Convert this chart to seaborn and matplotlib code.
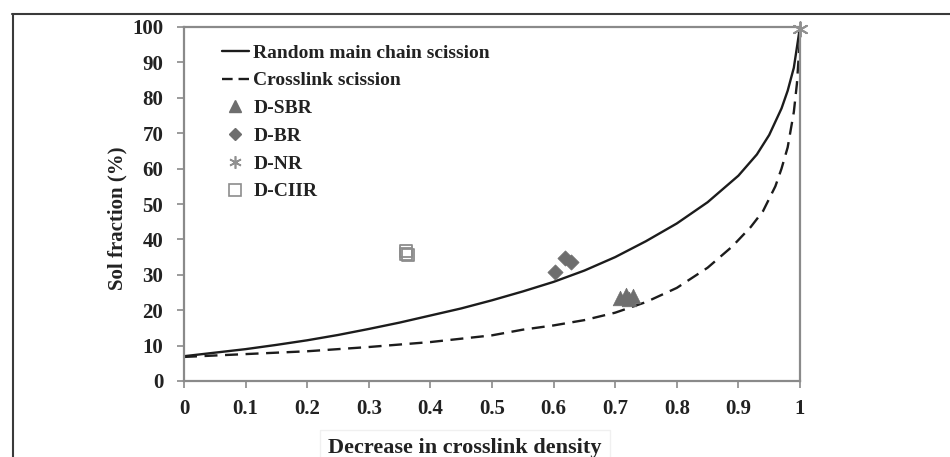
import matplotlib
matplotlib.use("Agg")
import matplotlib.pyplot as plt
from matplotlib.lines import Line2D
import seaborn as sns
import pandas as pd

# ---- data ----
random_x = [0.0, 0.05, 0.1, 0.15, 0.2, 0.25, 0.3, 0.35, 0.4, 0.45, 0.5, 0.55, 0.6,
            0.65, 0.7, 0.75, 0.8, 0.85, 0.9, 0.93, 0.95, 0.97, 0.98, 0.99, 1.0]
random_y = [7.0, 8.0, 9.0, 10.2, 11.5, 13.0, 14.7, 16.5, 18.5, 20.5, 22.8, 25.3, 28.0,
            31.2, 35.0, 39.5, 44.5, 50.5, 58.0, 64.0, 69.5, 77.0, 82.0, 88.5, 100.0]

xlink_x = [0.0, 0.1, 0.2, 0.3, 0.4, 0.5, 0.55, 0.6, 0.65, 0.7, 0.75, 0.8, 0.85,
           0.89, 0.92, 0.94, 0.96, 0.97, 0.98, 0.99, 0.995, 1.0]
xlink_y = [6.8, 7.6, 8.4, 9.6, 11.0, 12.9, 14.5, 15.7, 17.2, 19.3, 22.3, 26.3, 32.0,
           38.0, 43.5, 48.0, 55.0, 60.0, 66.0, 76.0, 84.0, 97.0]

sbr_x = [0.708, 0.718, 0.729, 0.722]
sbr_y = [23.4, 24.3, 24.0, 23.2]
br_x = [0.602, 0.619, 0.628]
br_y = [30.9, 34.7, 33.7]
nr_x = [1.0]
nr_y = [99.5]
ciir_x = [0.360, 0.363, 0.361]
ciir_y = [36.6, 35.5, 36.0]

x_ticks = [0, 0.1, 0.2, 0.3, 0.4, 0.5, 0.6, 0.7, 0.8, 0.9, 1]
x_tick_labels = ["0", "0.1", "0.2", "0.3", "0.4", "0.5", "0.6", "0.7", "0.8", "0.9", "1"]
y_ticks = [0, 10, 20, 30, 40, 50, 60, 70, 80, 90, 100]

x_label = "Decrease in crosslink density"
y_label = "Sol fraction (%)"
series_labels = ["Random main chain scission", "Crosslink scission",
                 "D-SBR", "D-BR", "D-NR", "D-CIIR"]

# ---- style ----
sns.set_style("ticks")
plt.rcParams["font.family"] = ["Liberation Serif", "DejaVu Serif"]
plt.rcParams["font.weight"] = "bold"

FS = 15
fig = plt.figure(figsize=(9.5, 4.57), dpi=100)
ax = fig.add_axes([184 / 950, 1 - 381 / 457, (800 - 184) / 950, (381 - 27) / 457])

line_col = "#1c1c1c"
mark_col = "#6e6e6e"
spine_col = "#8a8a8a"
text_col = "#222222"

df_r = pd.DataFrame({"x": random_x, "y": random_y})
df_c = pd.DataFrame({"x": xlink_x, "y": xlink_y})
sns.lineplot(data=df_r, x="x", y="y", ax=ax, color=line_col, lw=1.7,
             sort=False, estimator=None)
sns.lineplot(data=df_c, x="x", y="y", ax=ax, color=line_col, lw=1.7,
             sort=False, estimator=None, dashes=False)
ax.lines[-1].set_dashes((5.5, 3.2))

sns.scatterplot(x=sbr_x, y=sbr_y, ax=ax, marker="^", s=110, color=mark_col,
                edgecolor=mark_col, linewidth=0.5, zorder=4)
sns.scatterplot(x=br_x, y=br_y, ax=ax, marker="D", s=60, color=mark_col,
                edgecolor=mark_col, linewidth=0.5, zorder=4)
sns.scatterplot(x=nr_x, y=nr_y, ax=ax, marker=(6, 2, 0), s=110, color="#909090",
                edgecolor="#909090", linewidth=1.4, zorder=5, clip_on=False)
sns.scatterplot(x=ciir_x, y=ciir_y, ax=ax, marker="s", s=75, facecolor="none",
                edgecolor="#8c8c8c", linewidth=1.3, zorder=4)

ax.set_xlim(0, 1)
ax.set_ylim(0, 100)
ax.set_xticks(x_ticks)
ax.set_xticklabels(x_tick_labels)
ax.set_yticks(y_ticks)
ax.tick_params(axis="both", which="major", direction="out", length=5, width=1.2,
               color=spine_col, labelsize=FS, labelcolor=text_col)
ax.tick_params(axis="y", pad=10)
ax.tick_params(axis="x", pad=8)
for lab in ax.get_xticklabels() + ax.get_yticklabels():
    lab.set_fontweight("bold")
for sp in ax.spines.values():
    sp.set_visible(True)
    sp.set_color(spine_col)
    sp.set_linewidth(1.6)

ax.set_xlabel(x_label, fontsize=16, fontweight="bold", color=text_col,
              bbox=dict(boxstyle="square,pad=0.35", fc="none", ec="#f0f0f0", lw=1.0))
ax.xaxis.set_label_coords((465 - 184) / 616, -0.16)
ax.set_ylabel(y_label, fontsize=FS, fontweight="bold", color=text_col)
ax.yaxis.set_label_coords(-0.092, 0.46)

handles = [
    Line2D([], [], color=line_col, lw=1.7),
    Line2D([], [], color=line_col, lw=1.7, dashes=(4.5, 2.5)),
    Line2D([], [], ls="none", marker="^", ms=9, color=mark_col),
    Line2D([], [], ls="none", marker="D", ms=6.5, color=mark_col),
    Line2D([], [], ls="none", marker=(6, 2, 0), ms=9, mew=1.2, color="#909090"),
    Line2D([], [], ls="none", marker="s", ms=8, mfc="none", mec="#8c8c8c", mew=1.2),
]
leg = ax.legend(handles, series_labels, loc="upper left", bbox_to_anchor=(0.04, 0.99),
                frameon=False, handlelength=1.35, handletextpad=0.25, labelspacing=0.52,
                borderpad=0.2, prop={"family": "Liberation Serif", "weight": "bold", "size": 14})
for t in leg.get_texts():
    t.set_color(text_col)

# outer frame lines of the figure panel
fig.add_artist(Line2D([12 / 950, 1.0], [1 - 14 / 457, 1 - 14 / 457],
                      transform=fig.transFigure, color="#3a3a3a", lw=1.5))
fig.add_artist(Line2D([13 / 950, 13 / 950], [0.0, 1 - 14 / 457],
                      transform=fig.transFigure, color="#3a3a3a", lw=1.5))

fig.savefig("out.png", dpi=100)
